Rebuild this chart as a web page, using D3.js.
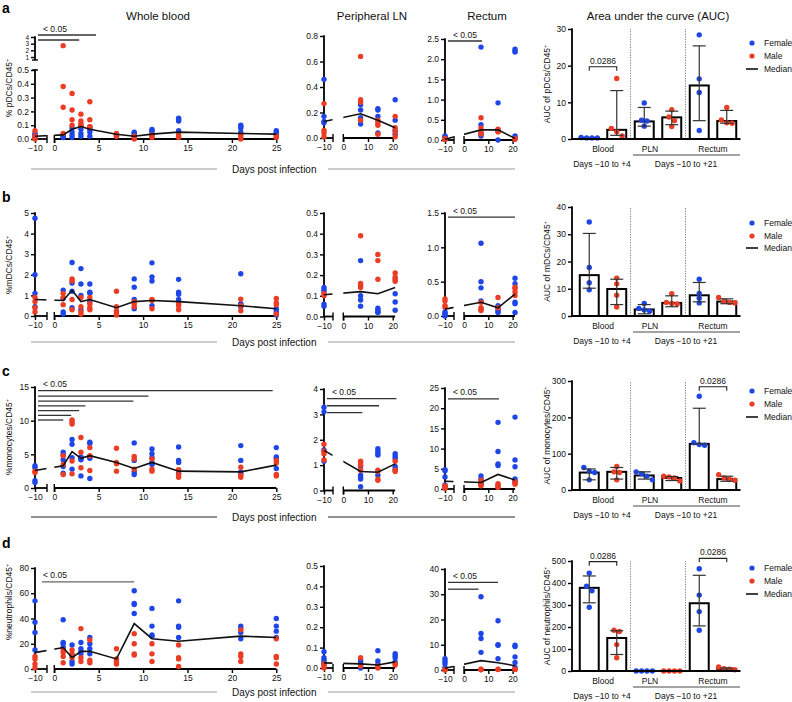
<!DOCTYPE html>
<html><head><meta charset="utf-8">
<script src="https://cdn.jsdelivr.net/npm/d3@7"></script>
<style>body{margin:0;background:#fff} svg{display:block}</style>
</head><body><svg id="c" width="792" height="702"></svg>
<script>
// ---------------- DATA ----------------
const daysWB = [-10,1,2,3,4,7,9,11,14,21,25];
const daysT = [-10,7,14,21];
const aucGroups = ["Blood F","Blood M","PLN F","PLN M","Rectum F","Rectum M"];
const aucCats = ["Blood","PLN","Rectum"];

// Row a: pDCs
const pdcWB_F = [[0.01,0.02,0.03,0.04],[0.02,0.03,0.01,0.02],[0.08,0.05,0.03,0.01],[0.09,0.07,0.04,0.02],[0.08,0.07,0.05,0.02],[0.02,0.03],[0.05,0.04,0.03,0.02],[0.07,0.06,0.05,0.03],[0.15,0.14,0.13,0.06],[0.10,0.09,0.08,0.05],[0.06,0.05,0.04,0.03]];
const pdcWB_M = [[0.06,0.02,0.01,0.0],[2.7,0.38,0.23,0.04],[0.33,0.21,0.14,0.10],[0.18,0.13,0.11,0.10],[0.27,0.14,0.09,0.09],[0.04,0.03,0.02,0.03],[0.0,0.02,0.01],[0.02,0.03,0.01],[0.02,0.01,0.03],[0.03,0.0,0.02],[0.02,0.01]];
const pdcWB_Med = [0.02,0.03,0.07,0.09,0.07,0.035,0.02,0.035,0.05,0.04,0.035];
const pdcLN_F = [[0.46,0.17,0.13,0.12],[0.26,0.22,0.16,0.11],[0.23,0.22,0.17,0.04],[0.30,0.14,0.06,0.03]];
const pdcLN_M = [[0.27,0.06,0.04,0.01],[0.64,0.30,0.28,0.14],[0.14,0.12,0.10,0.03],[0.17,0.08,0.05,0.01]];
const pdcLN_Med = [0.13,0.19,0.14,0.08];
const pdcRec_F = [[0.10,0.08,0.05,0.02],[2.30,0.38,0.15,0.10],[0.92,0.25,0.0],[2.25,2.20,2.18,0.10,0.05]];
const pdcRec_M = [[0.04,0.02,0.01],[0.55,0.30,0.20,0.15],[0.27,0.22,0.20],[0.03,0.02]];
const pdcRec_Med = [0.02,0.25,0.25,0.04];
const pdcAUC_bar = [0.3,2.5,4.8,5.9,14.6,4.9];
const pdcAUC_lo = [0.3,1.0,3.5,3.9,5.0,4.3];
const pdcAUC_hi = [0.3,13.2,8.6,7.6,25.4,7.8];
const pdcAUC_pts = [[0.3,0.3,0.3,0.4],[16.5,2.9,2.0,0.8],[9.8,5.1,4.9,3.5],[8.0,6.0,5.0,3.4],[28.4,16.4,12.7,2.3],[8.6,5.2,4.4,4.3]];

// Row b: mDCs
const mdcWB_F = [[4.75,2.0,1.1,0.45],[1.25,0.85,0.2,0.1],[2.6,1.6,1.2,0.4],[2.3,1.55,1.0,0.3],[1.55,1.15,1.1,0.7],[],[1.8,1.4,0.8,0.35],[2.58,1.9,1.7,0.5],[1.78,1.15,1.05,0.8],[2.05,0.6,0.55,0.45],[0.35,0.25,0.15,0.05]];
const mdcWB_M = [[0.9,0.7,0.4,0.2],[1.1,0.9,0.55],[1.8,1.7,0.8,0.3],[0.9,0.45,0.2,0.1],[0.9,0.6,0.4,0.3],[1.2,0.45,0.25,0.15,0.05],[0.7,0.6,0.45],[0.8,0.75,0.35],[0.6,0.5,0.3],[0.82,0.5,0.25],[0.85,0.65,0.55,0.1]];
const mdcWB_Med = [0.8,0.75,1.25,0.7,0.8,0.4,0.7,0.75,0.7,0.5,0.35];
const mdcLN_F = [[0.14,0.13,0.12,0.06,0.05],[0.27,0.10,0.08,0.05],[0.04,0.03,0.02,0.02],[0.11,0.07,0.03]];
const mdcLN_M = [[0.11,0.10],[0.39,0.16,0.15,0.14],[0.30,0.27,0.18],[0.21,0.19,0.18,0.17]];
const mdcLN_Med = [0.105,0.12,0.11,0.14];
const mdcRec_F = [[0.06,0.04,0.02,0.0],[1.06,0.50,0.41,0.22],[0.15,0.10,0.07,0.05],[0.55,0.47,0.20,0.18,0.05]];
const mdcRec_M = [[0.25,0.22,0.15,0.13],[0.20,0.12,0.10,0.08],[0.27,0.12],[0.42,0.40,0.35,0.30]];
const mdcRec_Med = [0.1,0.2,0.12,0.32];
const mdcAUC_bar = [15.0,9.9,2.4,4.8,7.6,5.3];
const mdcAUC_lo = [10.2,4.2,0.8,3.4,5.2,4.5];
const mdcAUC_hi = [30.3,13.5,4.2,7.4,12.3,6.3];
const mdcAUC_pts = [[34.5,17.8,12.2,9.6],[13.9,11.8,7.6,3.3],[4.6,2.8,2.2,1.8],[8.2,5.0,4.6,4.4],[13.5,8.3,6.5,4.8],[6.8,5.4,5.0,4.8]];

// Row c: monocytes
const monoWB_F = [[3.3,3.0,1.1,0.8],[5.3,4.9,4.2,3.2,2.2],[7.2,6.5,4.5,2.8],[4.6,4.5,4.3,4.2,1.8],[6.8,6.6,4.6,4.4,1.4],[],[6.7,4.1,2.4,2.0],[5.8,5.1,4.5,3.8,3.5],[6.1,4.1,3.8,2.2],[6.3,4.1,2.4,2.1],[6.0,4.6,4.4,2.9]];
const monoWB_M = [[2.5,2.3],[4.8,3.5,2.0],[10.1,9.8,9.5,4.0,2.1],[7.5,5.3,3.0],[6.0,4.8,2.6],[5.9,3.8,3.6,2.5],[4.7,4.3,2.8],[4.3,2.8,2.5],[2.7,2.0,1.6],[3.1,1.9,1.6],[4.1,3.7,2.0,1.8]];
const monoWB_Med = [2.6,3.3,5.4,4.4,4.8,3.8,2.9,3.8,2.5,2.4,3.4];
const monoLN_F = [[3.28,3.10,1.60,1.15],[0.95,0.60,0.50,0.45,0.15],[1.65,1.55,1.45,1.40,0.60],[1.45,1.35,1.25,0.95,0.85]];
const monoLN_M = [[1.82,1.55,1.45,1.20],[1.15,1.10,1.00,0.80],[0.80,0.75,0.45,0.40],[1.15,0.80,0.75]];
const monoLN_Med = [1.58,0.75,0.72,1.05];
const monoRec_F = [[4.8,4.5,3.0,1.0],[3.2,2.5,1.5,1.3],[16.5,9.3,6.2,5.8],[17.8,7.2,5.5,2.5,2.0]];
const monoRec_M = [[0.8,0.5,0.3,0.2],[2.2,1.8,1.0,0.8],[1.3,1.0,0.6,0.4],[1.8,1.5,1.2]];
const monoRec_Med = [1.9,1.6,3.6,2.2];
const monoAUC_bar = [48,50,40,33,127,30];
const monoAUC_lo = [28,30,30,26,127,24];
const monoAUC_hi = [58,62,50,37,225,38];
const monoAUC_pts = [[62,52,48,28],[65,50,48,28],[50,45,38,28],[38,36,33,25],[258,130,125,123],[42,33,30,27]];

// Row d: neutrophils
const neutWB_F = [[54,37,29,15],[39,21,20,17],[19,11,6,4],[21,16,14,12],[25,20,16,12],[],[62,52,51,44],[48,34,27,26],[54,34,33,25],[34,32,29,24],[40,34,30,25]];
const neutWB_M = [[10,8,4,1],[15,13,10,5],[15,12,9],[32,9,6],[23,7,5],[16,8,6,4],[28,20,12,11],[20,12,6],[19,9,8,2],[31,12,10,6],[24,10,9,4]];
const neutWB_Med = [13,17,9,14,14,8,36,24,22,26,25];
const neutLN_F = [[0.08,0.05,0.04,0.03,0.02],[0.04,0.03,0.02,0.01,0.0],[0.085,0.035,0.02],[0.07,0.06,0.05,0.03]];
const neutLN_M = [[0.02,0.01,0.0],[0.05,0.01],[0.0,0.01],[0.02,0.015]];
const neutLN_Med = [0.025,0.02,0.015,0.03];
const neutRec_F = [[4.5,3.5,2.5,1.0],[29,14.5,12.5,7.0],[19.5,10,9.8,4.5],[9.8,9.3,5.2,3.0,1.0]];
const neutRec_M = [[0.2,0.0],[0.3,0.2,0.1],[0.3,0.2],[0.3,0.2]];
const neutRec_Med = [0.7,3.7,2.9,1.7];
const neutAUC_bar = [378,150,0,0,308,8];
const neutAUC_lo = [310,75,0,0,205,4];
const neutAUC_hi = [432,183,0,0,435,14];
const neutAUC_pts = [[445,385,365,290],[185,180,120,60],[0,0,0,0],[0,0,0,0],[465,345,270,185],[18,10,8,6]];

// ---------------- DRAWING ----------------
const svg = d3.select("#c");
const BLUE = "#1e46e6", RED = "#eb3c24";
const FONT = '"Liberation Sans", Arial, Helvetica, sans-serif';
const AX = "#000";
let clipN = 0;

function ln(g, x1, y1, x2, y2, w, c) {
  return g.append("line").attr("x1", x1).attr("y1", y1).attr("x2", x2).attr("y2", y2)
    .attr("stroke", c || AX).attr("stroke-width", w || 1.6);
}
function txt(g, x, y, s, size, anchor) {
  return g.append("text").attr("x", x).attr("y", y).text(s)
    .attr("font-family", FONT).attr("font-size", size).attr("fill", "#111")
    .attr("text-anchor", anchor || "start");
}
function styleAxis(ga, fs) {
  ga.select(".domain").remove();
  ga.selectAll(".tick line").attr("stroke", AX).attr("stroke-width", 1.4);
  ga.selectAll(".tick text").attr("font-family", FONT).attr("font-size", fs || 8.5).attr("fill", "#111");
}
function yLabel(g, x, y, s, size) {
  const t = g.append("text").attr("transform", `translate(${x},${y}) rotate(-90)`)
    .attr("text-anchor", "middle").attr("font-family", FONT).attr("font-size", size).attr("fill", "#111");
  t.append("tspan").text(s);
  t.append("tspan").text("+").attr("font-size", size * 0.65).attr("dy", -size * 0.4);
}

function timePanel(o) {
  const g = svg.append("g");
  const x = d3.scaleLinear().domain([-10, 0, o.last]).range([o.axisX, o.x0, o.x0 + o.last * o.k]);
  const y = d3.scaleLinear().domain(o.yDom).range(o.yRng);
  const y0 = y(0);
  const id = "clip" + (clipN++);
  const cp = g.append("clipPath").attr("id", id);
  cp.append("rect").attr("x", 0).attr("y", 0).attr("width", o.breakX - 0.5).attr("height", 702);
  cp.append("rect").attr("x", o.x0).attr("y", 0).attr("width", 792 - o.x0).attr("height", 702);

  // y axis
  o.yTicks.forEach(seg => {
    const ax = d3.axisLeft(y).tickValues(seg.t).tickFormat(d3.format(seg.f)).tickSize(4).tickSizeOuter(0).tickPadding(2);
    const ga = g.append("g").attr("transform", `translate(${o.axisX},0)`).call(ax);
    styleAxis(ga, seg.fs);
    ln(g, o.axisX, y(seg.lo) + (seg.lo === 0 ? 0.8 : 0), o.axisX, y(seg.hi) - 0.7, 1.8);
    if (seg.capHi) ln(g, o.axisX - 3, y(seg.hi), o.axisX + 3, y(seg.hi), 1.4);
    if (seg.capLo) ln(g, o.axisX - 3, y(seg.lo), o.axisX + 3, y(seg.lo), 1.4);
  });
  // x axis segment 1 (-10)
  ln(g, o.axisX, y0, o.breakX, y0, 1.8);
  ln(g, o.breakX, y0 - 4, o.breakX, y0 + 4, 1.4);
  const ax1 = d3.axisBottom(x).tickValues([-10]).tickFormat(d3.format("d")).tickSize(4).tickSizeOuter(0).tickPadding(2);
  styleAxis(g.append("g").attr("transform", `translate(0,${y0})`).call(ax1));
  // x axis segment 2
  ln(g, o.x0, y0, x(o.last), y0, 1.8);
  ln(g, o.x0, y0 - 4, o.x0, y0 + 4, 1.4);
  const ax2 = d3.axisBottom(x).tickValues(o.xTicks).tickFormat(d3.format("d")).tickSize(4).tickSizeOuter(0).tickPadding(2);
  styleAxis(g.append("g").attr("transform", `translate(0,${y0})`).call(ax2));

  // points
  const pts = [];
  o.days.forEach((d, i) => { o.F[i].forEach(v => pts.push({d, v, c: BLUE})); });
  o.days.forEach((d, i) => { o.M[i].forEach(v => pts.push({d, v, c: RED})); });
  g.selectAll("circle.p").data(pts).join("circle").attr("class", "p")
    .attr("cx", p => x(p.d)).attr("cy", p => y(p.v)).attr("r", 2.7).attr("fill", p => p.c);

  // median line
  g.append("path").datum(o.days.map((d, i) => [d, o.med[i]]))
    .attr("d", d3.line().x(p => x(p[0])).y(p => y(p[1])))
    .attr("fill", "none").attr("stroke", "#111").attr("stroke-width", 1.6)
    .attr("clip-path", `url(#${id})`);

  // significance bars
  if (o.sig) {
    o.sig.forEach(s => ln(g, o.axisX + (o.sigDx || 3), y(s.v), x(s.end), y(s.v), 1.3, o.sigColor || "#333"));
    const top = d3.max(o.sig, s => s.v);
    txt(g, o.axisX + 8, y(top) - 3.5, "< 0.05", 8.5);
  }
  if (o.title) txt(g, o.titleX, 20, o.title, 11.5, "middle");
  if (o.ylab) yLabel(g, 12, o.ylabY, o.ylab, 8.5);
}

function aucPanel(o) {
  const g = svg.append("g");
  const x = d3.scaleBand().domain(d3.range(aucGroups.length)).range([575.5, 740.5]).paddingInner(0.31).paddingOuter(0.155);
  const y = d3.scaleLinear().domain([0, o.max]).range(o.yRng);
  const y0 = y(0), yTop = y(o.max);
  const cx = i => x(i) + x.bandwidth() / 2;
  // separators
  [2, 4].forEach(i => {
    const sx = x(i) - x.step() * x.paddingInner() / 2;
    ln(g, sx, y0, sx, yTop, 0.9, "#777").attr("stroke-dasharray", "1.3,1.3");
  });
  // bars
  g.selectAll("rect.bar").data(o.bar).join("rect").attr("class", "bar")
    .attr("x", (d, i) => x(i)).attr("width", x.bandwidth())
    .attr("y", d => y(d)).attr("height", d => y0 - y(d))
    .attr("fill", "#fff").attr("stroke", "#000").attr("stroke-width", 2);
  // points (spread overlapping)
  o.pts.forEach((arr, i) => {
    const col = i % 2 === 0 ? BLUE : RED;
    const sorted = arr.map(v => ({v, py: y(v)})).sort((a, b) => a.py - b.py);
    const clusters = [];
    sorted.forEach(p => {
      const last = clusters[clusters.length - 1];
      if (last && p.py - last[last.length - 1].py < 4.5) last.push(p); else clusters.push([p]);
    });
    clusters.forEach(cl => cl.forEach((p, j) => {
      const off = (j - (cl.length - 1) / 2) * 5.4;
      g.append("circle").attr("cx", cx(i) + off).attr("cy", p.py).attr("r", 2.7).attr("fill", col);
    }));
  });
  // error bars
  o.bar.forEach((b, i) => {
    if (o.hi[i] === o.lo[i]) return;
    const c = "#333";
    ln(g, cx(i), y(o.lo[i]), cx(i), y(o.hi[i]), 1.2, c);
    ln(g, cx(i) - 6.5, y(o.lo[i]), cx(i) + 6.5, y(o.lo[i]), 1.2, c);
    ln(g, cx(i) - 6.5, y(o.hi[i]), cx(i) + 6.5, y(o.hi[i]), 1.2, c);
  });
  // axes
  const ay = d3.axisLeft(y).tickValues(o.ticks).tickFormat(d3.format("d")).tickSize(4).tickSizeOuter(0).tickPadding(2);
  styleAxis(g.append("g").attr("transform", `translate(572,0)`).call(ay));
  ln(g, 572, y0 + 0.8, 572, yTop - 0.7, 1.8);
  ln(g, 571.2, y0, 740.5, y0, 1.8);
  // category labels
  aucCats.forEach((c, k) => {
    const mid = (cx(2 * k) + cx(2 * k + 1)) / 2 + (c === "PLN" ? -8 : 0);
    txt(g, mid, y0 + 12.5, c, 8.5, "middle");
  });
  ln(g, 633, y0 + 16, 740, y0 + 16, 0.9, "#333");
  txt(g, 602, y0 + 28, "Days \u221210 to +4", 8.5, "middle");
  txt(g, 686, y0 + 28, "Days \u221210 to +21", 8.5, "middle");
  // brackets
  (o.brackets || []).forEach(b => {
    const by = y(b.v);
    const xa = cx(b.a), xb = cx(b.b);
    g.append("path").attr("d", `M${xa},${by + 4}V${by}H${xb}V${by + 4}`)
      .attr("fill", "none").attr("stroke", "#222").attr("stroke-width", 1.1);
    txt(g, (xa + xb) / 2, by - 3, "0.0286", 8.5, "middle");
  });
  // y label
  yLabel(g, 550, (y0 + yTop) / 2, o.ylab, 8.5);
  // legend
  const [ly1, ly2, ly3] = o.legendY;
  g.append("circle").attr("cx", 752).attr("cy", ly1).attr("r", 2.6).attr("fill", BLUE);
  txt(g, 764, ly1 + 3, "Female", 8.5);
  g.append("circle").attr("cx", 752).attr("cy", ly2).attr("r", 2.6).attr("fill", RED);
  txt(g, 764, ly2 + 3, "Male", 8.5);
  ln(g, 746, ly3, 758, ly3, 1.6, "#111");
  txt(g, 764, ly3 + 3, "Median", 8.5);
  if (o.title) txt(g, 658, 20, o.title, 11.5, "middle");
}

const WBX = {axisX: 35, breakX: 47, x0: 54.3, k: 8.88, last: 25, xTicks: [0,5,10,15,20,25], days: daysWB};
const LNX = {axisX: 324, breakX: 333, x0: 343.3, k: 2.47, last: 21, xTicks: [0,10,20], days: daysT};
const RCX = {axisX: 445, breakX: 454, x0: 464, k: 2.43, last: 21, xTicks: [0,10,20], days: daysT};
const r = (a, b, s) => d3.range(a, b + s / 2, s).map(v => +v.toFixed(3));

// Row labels
[["a", 13], ["b", 202], ["c", 376], ["d", 548]].forEach(([l, yy]) =>
  svg.append("text").attr("x", 2).attr("y", yy).text(l).attr("font-family", FONT)
    .attr("font-size", 14).attr("font-weight", "bold").attr("fill", "#000"));

// "Days post infection" rows
[[169, "#999"], [342, "#999"], [517, "#222"], [692, "#999"]].forEach(([yy, c]) => {
  ln(svg, 31, yy, 217, yy, 1.2, c);
  ln(svg, 328, yy, 515, yy, 1.2, c);
  txt(svg, 232, yy + 3.5, "Days post infection", 10);
});

// Row a
timePanel({...WBX, F: pdcWB_F, M: pdcWB_M, med: pdcWB_Med, yDom: [0, 0.5, 1, 4], yRng: [139, 70, 57, 37],
  yTicks: [{t: r(0, 0.5, 0.1), f: ".1f", lo: 0, hi: 0.5, capHi: true}, {t: [1,2,3,4], f: "d", lo: 0.885, hi: 4, capLo: true, fs: 6.5}],
  sig: [{v: 4.3, end: 4.7}, {v: 3.55, end: 2.8}], title: "Whole blood", titleX: 158, ylab: "% pDCs/CD45", ylabY: 88});
timePanel({...LNX, F: pdcLN_F, M: pdcLN_M, med: pdcLN_Med, yDom: [0, 0.8], yRng: [138, 36],
  yTicks: [{t: r(0, 0.8, 0.2), f: ".1f", lo: 0, hi: 0.8}], title: "Peripheral LN", titleX: 372});
timePanel({...RCX, F: pdcRec_F, M: pdcRec_M, med: pdcRec_Med, yDom: [0, 2.5], yRng: [140, 39],
  yTicks: [{t: r(0, 2.5, 0.5), f: ".1f", lo: 0, hi: 2.5}], sig: [{v: 2.45, end: 7.4}], title: "Rectum", titleX: 487});
aucPanel({max: 30, yRng: [139, 29], ticks: [0,10,20,30], bar: pdcAUC_bar, lo: pdcAUC_lo, hi: pdcAUC_hi, pts: pdcAUC_pts,
  brackets: [{a: 0, b: 1, v: 19.7}], ylab: "AUC of pDCs/CD45", legendY: [43, 56, 69], title: "Area under the curve (AUC)"});

// Row b
timePanel({...WBX, F: mdcWB_F, M: mdcWB_M, med: mdcWB_Med, yDom: [0, 5], yRng: [316, 213],
  yTicks: [{t: [0,1,2,3,4,5], f: "d", lo: 0, hi: 5}], ylab: "%mDCs/CD45", ylabY: 265});
timePanel({...LNX, F: mdcLN_F, M: mdcLN_M, med: mdcLN_Med, yDom: [0, 0.5], yRng: [316.5, 213],
  yTicks: [{t: r(0, 0.5, 0.1), f: ".1f", lo: 0, hi: 0.5}]});
timePanel({...RCX, F: mdcRec_F, M: mdcRec_M, med: mdcRec_Med, yDom: [0, 1.5], yRng: [316, 213],
  yTicks: [{t: r(0, 1.5, 0.5), f: ".1f", lo: 0, hi: 1.5}], sig: [{v: 1.44, end: 21}]});
aucPanel({max: 40, yRng: [316, 207], ticks: [0,10,20,30,40], bar: mdcAUC_bar, lo: mdcAUC_lo, hi: mdcAUC_hi, pts: mdcAUC_pts,
  ylab: "AUC of mDCs/CD45", legendY: [223, 236, 248]});

// Row c
timePanel({...WBX, F: monoWB_F, M: monoWB_M, med: monoWB_Med, yDom: [0, 15], yRng: [488, 387],
  yTicks: [{t: [0,5,10,15], f: "d", lo: 0, hi: 15}],
  sig: [{v: 14.45, end: 24.6}, {v: 13.65, end: 10.6}, {v: 12.9, end: 8.9}, {v: 12.2, end: 3.5}, {v: 11.5, end: 2.8}, {v: 10.8, end: 1.9}, {v: 10.1, end: 1.0}],
  ylab: "%monocytes/CD45", ylabY: 437});
timePanel({...LNX, F: monoLN_F, M: monoLN_M, med: monoLN_Med, yDom: [0, 4], yRng: [490.5, 389],
  yTicks: [{t: [0,1,2,3,4], f: "d", lo: 0, hi: 4}], sig: [{v: 3.62, end: 21.5}, {v: 3.34, end: 14.5}, {v: 3.07, end: 7.7}]});
timePanel({...RCX, F: monoRec_F, M: monoRec_M, med: monoRec_Med, yDom: [0, 25], yRng: [489, 388],
  yTicks: [{t: r(0, 25, 5), f: "d", lo: 0, hi: 25}], sig: [{v: 22.3, end: 14.4}]});
aucPanel({max: 300, yRng: [490, 381], ticks: [0,100,200,300], bar: monoAUC_bar, lo: monoAUC_lo, hi: monoAUC_hi, pts: monoAUC_pts,
  brackets: [{a: 4, b: 5, v: 284}], ylab: "AUC of monocytes/CD45", legendY: [391, 404, 417]});

// Row d
timePanel({...WBX, F: neutWB_F, M: neutWB_M, med: neutWB_Med, yDom: [0, 80], yRng: [669, 568],
  yTicks: [{t: r(0, 80, 20), f: "d", lo: 0, hi: 80}], sig: [{v: 69, end: 9}], sigDx: 7, sigColor: "#666",
  ylab: "%neutrophils/CD45", ylabY: 602});
timePanel({...LNX, F: neutLN_F, M: neutLN_M, med: neutLN_Med, yDom: [0, 0.5], yRng: [668, 566],
  yTicks: [{t: r(0, 0.5, 0.1), f: ".1f", lo: 0, hi: 0.5}]});
timePanel({...RCX, F: neutRec_F, M: neutRec_M, med: neutRec_Med, yDom: [0, 40], yRng: [670, 569],
  yTicks: [{t: r(0, 40, 10), f: "d", lo: 0, hi: 40}], sig: [{v: 34.7, end: 14}, {v: 32, end: 6}]});
aucPanel({max: 500, yRng: [671, 561], ticks: r(0, 500, 100), bar: neutAUC_bar, lo: neutAUC_lo, hi: neutAUC_hi, pts: neutAUC_pts,
  brackets: [{a: 0, b: 1, v: 497}, {a: 4, b: 5, v: 512}], ylab: "AUC of neutrophils/CD45", legendY: [568, 581, 594]});
</script>
</body></html>
